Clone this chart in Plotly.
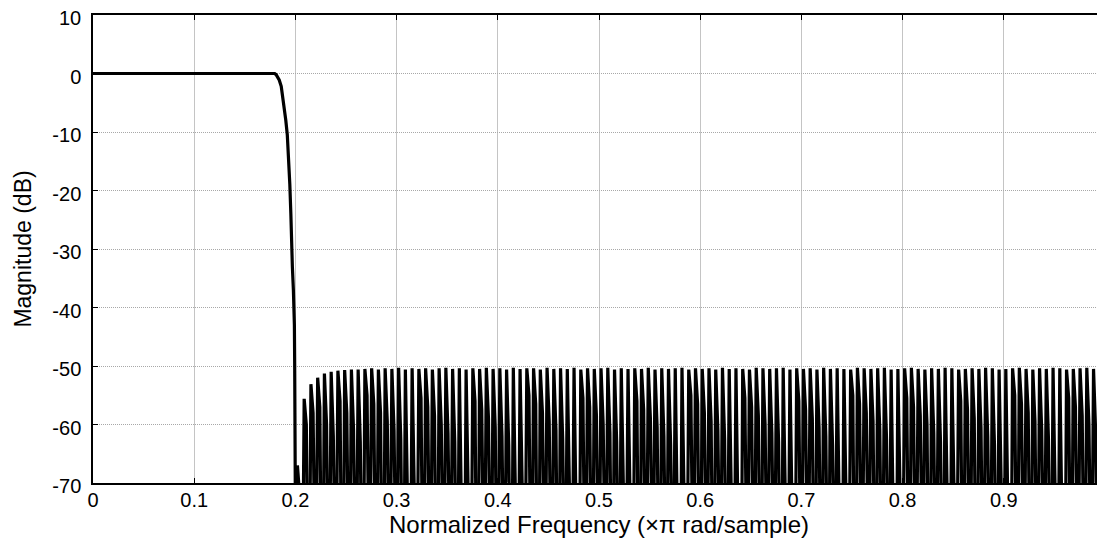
import numpy as np
import plotly.graph_objects as go

# Passband / transition band (normalized frequency, dB)
pass_freq = [0.0, 0.05, 0.10, 0.15, 0.175, 0.1795, 0.181, 0.1825, 0.184, 0.186, 0.188, 0.1905, 0.192,
             0.1935, 0.1945, 0.1955, 0.196, 0.197, 0.198, 0.1985, 0.199, 0.1993, 0.1996, 0.1998]
pass_db = [0.0, 0.0, 0.0, 0.0, 0.0, 0.0, -0.2, -0.6, -1.1, -2.2, -4.5, -8.0, -10.5,
           -15.0, -19.0, -24.0, -28.5, -33.0, -37.0, -40.0, -43.0, -50.0, -60.0, -66.0]

# Stopband: one entry per ripple (peak level, shoulder level, trough level)
n_ripples = 120
stop_start = 0.2
stop_end = 1.0

ripple_peak_db = [
    -67.0, -55.6, -53.1, -52.0, -51.3, -51.0, -50.8, -50.7, -50.6, -50.6,
    -50.5, -50.4, -50.6, -50.4, -50.5, -50.3, -50.6, -50.4, -50.5, -50.4,
    -50.6, -50.4, -50.3, -50.5, -50.4, -50.6, -50.4, -50.5, -50.3, -50.5,
    -50.4, -50.6, -50.3, -50.5, -50.4, -50.4, -50.6, -50.3, -50.5, -50.4,
    -50.5, -50.3, -50.6, -50.4, -50.5, -50.4, -50.3, -50.6, -50.4, -50.5,
    -50.4, -50.5, -50.3, -50.6, -50.4, -50.5, -50.4, -50.3, -50.6, -50.4,
    -50.5, -50.4, -50.6, -50.3, -50.5, -50.4, -50.5, -50.6, -50.3, -50.4,
    -50.5, -50.4, -50.3, -50.6, -50.4, -50.5, -50.4, -50.6, -50.3, -50.5,
    -50.4, -50.5, -50.6, -50.3, -50.4, -50.5, -50.4, -50.3, -50.6, -50.5,
    -50.4, -50.3, -50.5, -50.6, -50.4, -50.5, -50.3, -50.4, -50.6, -50.5,
    -50.4, -50.5, -50.3, -50.4, -50.6, -50.5, -50.4, -50.3, -50.5, -50.6,
    -50.4, -50.5, -50.3, -50.4, -50.6, -50.5, -50.4, -50.3, -50.5, -50.4,
]

ripple_shoulder_db = [
    -72.0, -60.0, -58.0, -57.0, -60.0, -62.0, -56.0, -58.0, -61.0, -63.0,
    -55.0, -56.5, -58.0, -59.5, -61.0, -62.5, -64.0, -66.0, -55.5, -57.0,
    -58.5, -60.0, -61.5, -63.0, -64.5, -66.5, -56.0, -57.5, -59.0, -60.5,
    -62.0, -63.5, -65.0, -67.0, -55.0, -56.5, -58.0, -59.5, -61.0, -62.5,
    -64.0, -66.0, -55.5, -57.0, -58.5, -60.0, -61.5, -63.0, -64.5, -66.5,
    -56.0, -57.5, -59.0, -60.5, -62.0, -63.5, -65.0, -67.0, -55.0, -56.5,
    -58.0, -59.5, -61.0, -62.5, -64.0, -66.0, -55.5, -57.0, -58.5, -60.0,
    -61.5, -63.0, -64.5, -66.5, -56.0, -57.5, -59.0, -60.5, -62.0, -63.5,
    -65.0, -67.0, -55.0, -56.5, -58.0, -59.5, -61.0, -62.5, -64.0, -66.0,
    -55.5, -57.0, -58.5, -60.0, -61.5, -63.0, -64.5, -66.5, -56.0, -57.5,
    -59.0, -60.5, -62.0, -63.5, -65.0, -67.0, -55.0, -56.5, -58.0, -59.5,
    -61.0, -62.5, -64.0, -66.0, -55.5, -57.0, -58.5, -60.0, -61.5, -63.0,
]

ripple_trough_db = [
    -75.0, -98.0, -104.0, -96.0, -108.0, -100.0, -95.0, -110.0, -99.0, -97.0,
    -105.0, -95.0, -102.0, -109.0, -98.0, -95.0, -106.0, -100.0, -96.0, -104.0,
    -99.0, -108.0, -97.0, -95.0, -102.0, -105.0, -98.0, -109.0, -95.0, -100.0,
    -104.0, -97.0, -106.0, -99.0, -95.0, -102.0, -110.0, -96.0, -100.0, -105.0,
    -98.0, -95.0, -108.0, -99.0, -104.0, -97.0, -95.0, -106.0, -100.0, -96.0,
    -102.0, -109.0, -98.0, -95.0, -105.0, -99.0, -97.0, -108.0, -100.0, -95.0,
    -104.0, -98.0, -106.0, -96.0, -102.0, -99.0, -110.0, -95.0, -100.0, -105.0,
    -97.0, -95.0, -108.0, -99.0, -104.0, -98.0, -96.0, -106.0, -100.0, -102.0,
    -95.0, -105.0, -99.0, -109.0, -97.0, -95.0, -104.0, -100.0, -98.0, -108.0,
    -96.0, -102.0, -99.0, -95.0, -106.0, -97.0, -105.0, -100.0, -95.0, -104.0,
    -98.0, -109.0, -99.0, -96.0, -102.0, -95.0, -106.0, -100.0, -97.0, -105.0,
    -99.0, -95.0, -104.0, -98.0, -108.0, -100.0, -96.0, -102.0, -95.0, -99.0,
    -104.0,
]

x_ticks = [0, 0.1, 0.2, 0.3, 0.4, 0.5, 0.6, 0.7, 0.8, 0.9, 1.0]
x_tick_text = ["0", "0.1", "0.2", "0.3", "0.4", "0.5", "0.6", "0.7", "0.8", "0.9", "1"]
y_ticks = [10, 0, -10, -20, -30, -40, -50, -60, -70]
y_tick_text = ["10", "0", "-10", "-20", "-30", "-40", "-50", "-60", "-70"]

# Assemble the trace from the tables (ripple grid = sample grid of the response)
period = (stop_end - stop_start) / n_ripples
freq = list(pass_freq)
mag = list(pass_db)
for i in range(n_ripples):
    f0 = stop_start + i * period
    freq += [f0, f0 + 0.30 * period, f0 + 0.62 * period]
    mag += [ripple_trough_db[i], ripple_peak_db[i], ripple_shoulder_db[i]]
freq.append(stop_end)
mag.append(ripple_trough_db[n_ripples])

fig = go.Figure()
fig.add_trace(go.Scatter(x=freq, y=mag, mode="lines",
                         line=dict(color="black", width=3.2), showlegend=False))

font_family = "Liberation Sans, Arial, sans-serif"
# The page body adds an 8 px offset, so the figure is sized to the remaining window.
fig.update_layout(
    width=1097, height=535,
    margin=dict(l=85, r=0, t=7, b=60),
    paper_bgcolor="white", plot_bgcolor="white",
    font=dict(family=font_family, size=20, color="black"),
    xaxis=dict(
        range=[0, 1.0], tickvals=x_ticks, ticktext=x_tick_text, automargin=False,
        showgrid=True, gridcolor="#c4c4c4", gridwidth=1,
        showline=True, linecolor="black", linewidth=1.5, mirror="ticks",
        ticks="inside", ticklen=5, tickcolor="black", ticklabeloverflow="allow",
        tickfont=dict(size=20), zeroline=False, ticklabelstandoff=-2,
        title=dict(text="Normalized Frequency (×π rad/sample)", font=dict(size=24), standoff=0),
    ),
    yaxis=dict(
        range=[-70, 10], tickvals=y_ticks, ticktext=y_tick_text, automargin=False,
        showgrid=True, gridcolor="#a8a8a8", gridwidth=1, griddash="1px,1px",
        showline=True, linecolor="black", linewidth=1.5, mirror="ticks",
        ticks="inside", ticklen=5, tickcolor="black", ticklabeloverflow="allow",
        tickfont=dict(size=20), zeroline=False, ticklabelstandoff=6, ticklabelshift=3,
        title=dict(text="Magnitude (dB)", font=dict(size=23), standoff=14),
    ),
)

fig.write_html("out.html")
